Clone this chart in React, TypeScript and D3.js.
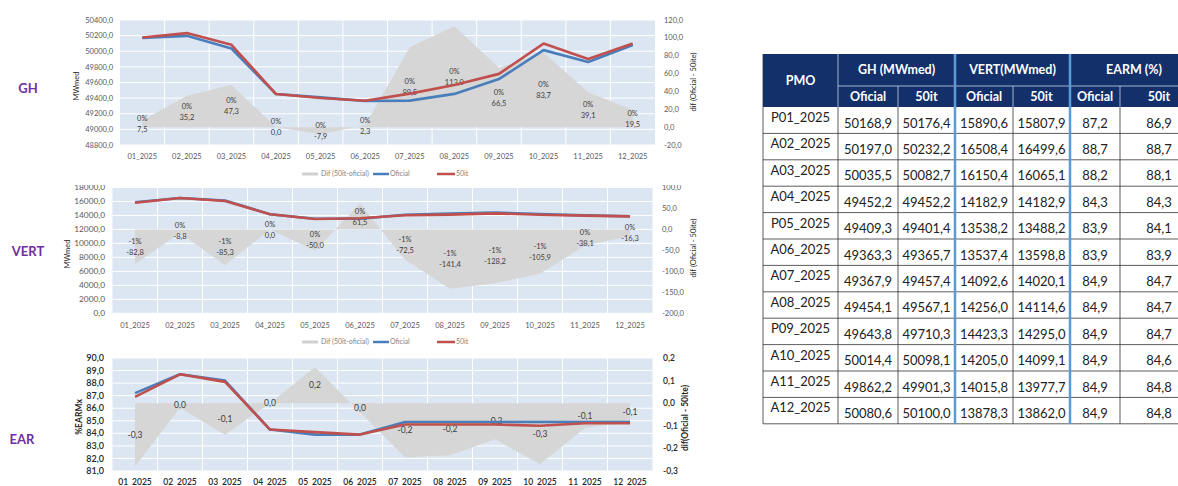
import * as d3 from 'd3';

// meses (eixo x dos gráficos)
const months = ['01_2025', '02_2025', '03_2025', '04_2025', '05_2025', '06_2025', '07_2025', '08_2025', '09_2025', '10_2025', '11_2025', '12_2025'];
const pmo = ['P01_2025', 'A02_2025', 'A03_2025', 'A04_2025', 'P05_2025', 'A06_2025', 'A07_2025', 'A08_2025', 'P09_2025', 'A10_2025', 'A11_2025', 'A12_2025'];

const ghOficial = [50168.9, 50197.0, 50035.5, 49452.2, 49409.3, 49363.3, 49367.9, 49454.1, 49643.8, 50014.4, 49862.2, 50080.6];
const gh50it = [50176.4, 50232.2, 50082.7, 49452.2, 49401.4, 49365.7, 49457.4, 49567.1, 49710.3, 50098.1, 49901.3, 50100.0];
const vertOficial = [15890.6, 16508.4, 16150.4, 14182.9, 13538.2, 13537.4, 14092.6, 14256.0, 14423.3, 14205.0, 14015.8, 13878.3];
const vert50it = [15807.9, 16499.6, 16065.1, 14182.9, 13488.2, 13598.8, 14020.1, 14114.6, 14295.0, 14099.1, 13977.7, 13862.0];
const earOficial = [87.2, 88.7, 88.2, 84.3, 83.9, 83.9, 84.9, 84.9, 84.9, 84.9, 84.9, 84.9];
const ear50it = [86.9, 88.7, 88.1, 84.3, 84.1, 83.9, 84.7, 84.7, 84.7, 84.6, 84.8, 84.8];

// diferenças (área cinza, eixo secundário)
const ghDif = [7.5, 35.2, 47.3, 0.0, -7.9, 2.3, 89.5, 113.0, 66.5, 83.7, 39.1, 19.5];
const vertDif = [-82.8, -8.8, -85.3, 0.0, -50.0, 61.5, -72.5, -141.4, -128.2, -105.9, -38.1, -16.3];
const earDif = [-0.28, -0.02, -0.14, 0.0, 0.16, -0.04, -0.24, -0.23, -0.16, -0.27, -0.11, -0.08];
const earDifLabels = ['-0,3', '0,0', '-0,1', '0,0', '0,2', '0,0', '-0,2', '-0,2', '-0,2', '-0,3', '-0,1', '-0,1'];

const FONT = 'Lato, "Open Sans", sans-serif';
const fmt1 = (v: number) => v.toFixed(1).replace('.', ',');
const pct = (d: number, base: number) => `${Math.round((d / base) * 100) || 0}%`;

type PanelProps = {
  x0: number; x1: number; top: number; bottom: number;
  leftDomain: [number, number]; leftTicks: number;
  rightDomain: [number, number]; rightTicks: number;
  oficial: number[]; it50: number[]; dif: number[];
  difLabels: string[]; pctLabels?: string[];
  leftTitle: string; rightTitle: string; bold?: boolean;
  leftTickX: number; rightTickX: number;
  leftTitleX: number; leftTitleY: number; rightTitleX: number; rightTitleY: number;
  tickSize: number; rightTickSize: number; xLabelY: number; xLabelSize: number;
  labelSize: number; titleSize: number;
  legendY?: number; clipTop?: number; id: string;
};

const Panel = (p: PanelProps) => {
  const x = d3.scaleBand<string>().domain(months).range([p.x0, p.x1]);
  const cx = (i: number) => (x(months[i]) ?? 0) + x.bandwidth() / 2;
  const yL = d3.scaleLinear().domain(p.leftDomain).range([p.bottom, p.top]);
  const yR = d3.scaleLinear().domain(p.rightDomain).range([p.bottom, p.top]);
  const lt = d3.ticks(p.leftDomain[0], p.leftDomain[1], p.leftTicks);
  const rt = d3.ticks(p.rightDomain[0], p.rightDomain[1], p.rightTicks);

  const area = d3.area<number>().x((_, i) => cx(i)).y0(yR(0)).y1((d) => yR(d));
  const line = d3.line<number>().x((_, i) => cx(i)).y((d) => yL(d));
  const tickColor = p.bold ? '#262626' : '#595959';
  const fw = p.bold ? 600 : 400;

  return (
    <g clipPath={p.clipTop !== undefined ? `url(#${p.id})` : undefined} fontFamily={FONT}>
      {p.clipTop !== undefined && (
        <defs>
          <clipPath id={p.id}>
            <rect x={0} y={p.clipTop} width={760} height={400} />
          </clipPath>
        </defs>
      )}
      <rect x={p.x0} y={p.top} width={p.x1 - p.x0} height={p.bottom - p.top} fill="#dce6f2" />
      {lt.map((t) => (
        <line key={'h' + t} x1={p.x0} x2={p.x1} y1={yL(t)} y2={yL(t)} stroke="#fff" strokeWidth={1} />
      ))}
      {months.slice(1).map((m) => (
        <line key={'v' + m} x1={x(m)} x2={x(m)} y1={p.top} y2={p.bottom} stroke="#fff" strokeWidth={1} />
      ))}
      <path d={area(p.dif) ?? undefined} fill="#d6d6d6" />
      {p.dif.map((d, i) => {
        const yc = yR(d / 2);
        return (
          <g key={'l' + i} fontSize={p.labelSize} fill="#404040" textAnchor="middle">
            {p.pctLabels ? (
              <>
                <text x={cx(i)} y={yc - 5.5} dy="0.35em">{p.pctLabels[i]}</text>
                <text x={cx(i)} y={yc + 5.5} dy="0.35em">{p.difLabels[i]}</text>
              </>
            ) : (
              <text x={cx(i)} y={yc} dy="0.35em">{p.difLabels[i]}</text>
            )}
          </g>
        );
      })}
      <path d={line(p.oficial) ?? undefined} fill="none" stroke="#4a7ebb" strokeWidth={2.6} strokeLinejoin="round" />
      <path d={line(p.it50) ?? undefined} fill="none" stroke="#c0504d" strokeWidth={2.6} strokeLinejoin="round" />
      {lt.map((t) => (
        <text key={'lt' + t} x={p.leftTickX} y={yL(t)} dy="0.35em" textAnchor="end" fontSize={p.tickSize} fill={tickColor} fontWeight={fw}>
          {fmt1(t)}
        </text>
      ))}
      {rt.map((t) => (
        <text key={'rt' + t} x={p.rightTickX} y={yR(t)} dy="0.35em" textAnchor="start" fontSize={p.rightTickSize} fill={tickColor} fontWeight={fw}>
          {fmt1(t)}
        </text>
      ))}
      {months.map((m, i) => (
        <text key={'x' + m} x={cx(i)} y={p.xLabelY} dy="0.35em" textAnchor="middle" fontSize={p.xLabelSize} fill={tickColor} fontWeight={fw}>
          {m}
        </text>
      ))}
      <text transform={`translate(${p.leftTitleX},${p.leftTitleY}) rotate(-90)`} textAnchor="middle" dy="0.35em"
        fontSize={p.titleSize} fill="#262626" fontWeight={p.bold ? 700 : 400}>
        {p.leftTitle}
      </text>
      <text transform={`translate(${p.rightTitleX},${p.rightTitleY}) rotate(-90)`} textAnchor="middle" dy="0.35em"
        fontSize={p.titleSize} fill="#262626" fontWeight={p.bold ? 700 : 400}>
        {p.rightTitle}
      </text>
      {p.legendY !== undefined && (
        <g fontSize={7} fill="#7f7f7f">
          <line x1={302} x2={318} y1={p.legendY} y2={p.legendY} stroke="#d0d0d0" strokeWidth={3} />
          <text x={321} y={p.legendY} dy="0.35em">Dif (50it-oficial)</text>
          <line x1={373} x2={389} y1={p.legendY} y2={p.legendY} stroke="#4a7ebb" strokeWidth={2.5} />
          <text x={390} y={p.legendY} dy="0.35em">Oficial</text>
          <line x1={437} x2={455} y1={p.legendY} y2={p.legendY} stroke="#c0504d" strokeWidth={2.5} />
          <text x={456} y={p.legendY} dy="0.35em">50it</text>
        </g>
      )}
    </g>
  );
};

// tabela
const colEdges = [763, 838, 898, 955, 1013, 1070, 1120, 1198];
const headTop = 54;
const headMid = 86;
const headBot = 107;
const rowH = 26.4;

const Table = () => {
  const rows = pmo.map((_, i) => [ghOficial[i], gh50it[i], vertOficial[i], vert50it[i], earOficial[i], ear50it[i]]);
  const bottom = headBot + rowH * pmo.length;
  const mid = (a: number, b: number) => (colEdges[a] + colEdges[b]) / 2;
  const groups = ['GH (MWmed)', 'VERT(MWmed)', 'EARM (%)'];
  return (
    <g fontFamily={FONT}>
      <rect x={colEdges[0]} y={headTop} width={colEdges[7] - colEdges[0]} height={headBot - headTop} fill="#14306b" />
      <line x1={colEdges[1]} x2={colEdges[7]} y1={headMid} y2={headMid} stroke="#c9d3e6" strokeWidth={0.8} />
      {[1, 2, 4, 6].map((c) => (
        <line key={'hv' + c} x1={colEdges[c]} x2={colEdges[c]} y1={c === 1 ? headTop : headMid} y2={headBot} stroke="#c9d3e6" strokeWidth={0.8} />
      ))}
      <text x={mid(0, 1)} y={(headTop + headBot) / 2} dy="0.35em" textAnchor="middle" fill="#fff" fontWeight={700} fontSize={12.5}>PMO</text>
      {groups.map((g, k) => (
        <text key={g} x={mid(1 + 2 * k, 3 + 2 * k)} y={(headTop + headMid) / 2} dy="0.35em" textAnchor="middle" fill="#fff" fontWeight={700} fontSize={12.5}>{g}</text>
      ))}
      {[0, 1, 2, 3, 4, 5].map((c) => (
        <text key={'sub' + c} x={mid(c + 1, c + 2)} y={(headMid + headBot) / 2} dy="0.35em" textAnchor="middle" fill="#fff" fontWeight={700} fontSize={12.5}>
          {c % 2 === 0 ? 'Oficial' : '50it'}
        </text>
      ))}
      {rows.map((r, i) => {
        const y0 = headBot + i * rowH;
        return (
          <g key={pmo[i]} fontSize={13} fill="#222">
            <text x={mid(0, 1)} y={y0 + 10.5} dy="0.35em" textAnchor="middle">{pmo[i]}</text>
            {r.map((v, c) => (
              <text key={c} x={mid(c + 1, c + 2)} y={y0 + 16} dy="0.35em" textAnchor="middle">{fmt1(v)}</text>
            ))}
            <line x1={colEdges[0]} x2={colEdges[7]} y1={y0 + rowH} y2={y0 + rowH} stroke="#333" strokeWidth={0.8} />
          </g>
        );
      })}
      {[0, 1, 2, 4, 6, 7].map((c) => (
        <line key={'bv' + c} x1={colEdges[c]} x2={colEdges[c]} y1={c === 0 || c === 7 ? headTop : headBot} y2={bottom} stroke="#333" strokeWidth={0.8} />
      ))}
      {[3, 5].map((c) => (
        <line key={'bl' + c} x1={colEdges[c]} x2={colEdges[c]} y1={headTop} y2={bottom} stroke="#5b9bd5" strokeWidth={2.5} />
      ))}
    </g>
  );
};

export default function App() {
  const ghPct = ghDif.map((d, i) => pct(d, ghOficial[i]));
  const vertPct = vertDif.map((d, i) => pct(d, vertOficial[i]));
  return (
    <svg width={1178} height={486} style={{ position: 'absolute', left: 0, top: 0, background: '#fff' }}>
      <rect width={1178} height={486} fill="#fff" />
      <g fontFamily={FONT} fontWeight={700} fill="#7030a0" fontSize={13} textAnchor="middle">
        <text x={28} y={88} dy="0.35em">GH</text>
        <text x={28} y={251} dy="0.35em">VERT</text>
        <text x={22} y={439} dy="0.35em">EAR</text>
      </g>
      <Panel id="gh" x0={120} x1={655} top={20} bottom={145}
        leftDomain={[48800, 50400]} leftTicks={8} rightDomain={[-20, 120]} rightTicks={7}
        oficial={ghOficial} it50={gh50it} dif={ghDif} difLabels={ghDif.map(fmt1)} pctLabels={ghPct}
        leftTitle="MWmed" rightTitle="dif (Oficial - 50ite)"
        leftTickX={113} rightTickX={664} leftTitleX={76} leftTitleY={86} rightTitleX={693} rightTitleY={82}
        tickSize={7.5} rightTickSize={7.5} xLabelY={156} xLabelSize={7.5} labelSize={7.5} titleSize={7.5}
        legendY={174} />
      <Panel id="vert" x0={112.5} x1={652.5} top={187.5} bottom={313.3}
        leftDomain={[0, 18000]} leftTicks={9} rightDomain={[-200, 100]} rightTicks={6}
        oficial={vertOficial} it50={vert50it} dif={vertDif} difLabels={vertDif.map(fmt1)} pctLabels={vertPct}
        leftTitle="MWmed" rightTitle="dif (Oficial - 50ite)"
        leftTickX={105} rightTickX={662} leftTitleX={67} leftTitleY={254} rightTitleX={693} rightTitleY={248}
        tickSize={8.3} rightTickSize={7.5} xLabelY={325} xLabelSize={7.5} labelSize={7.5} titleSize={7.5}
        legendY={342} clipTop={185} />
      <Panel id="ear" x0={112.5} x1={652.5} top={358} bottom={471}
        leftDomain={[81, 90]} leftTicks={9} rightDomain={[-0.3, 0.2]} rightTicks={5}
        oficial={earOficial} it50={ear50it} dif={earDif} difLabels={earDifLabels}
        leftTitle="%EARMx" rightTitle="dif(Oficial - 50ite)" bold
        leftTickX={104} rightTickX={663} leftTitleX={79} leftTitleY={417} rightTitleX={685} rightTitleY={418}
        tickSize={9} rightTickSize={8.5} xLabelY={482} xLabelSize={8.5} labelSize={8.5} titleSize={8.5} />
      <Table />
    </svg>
  );
}
